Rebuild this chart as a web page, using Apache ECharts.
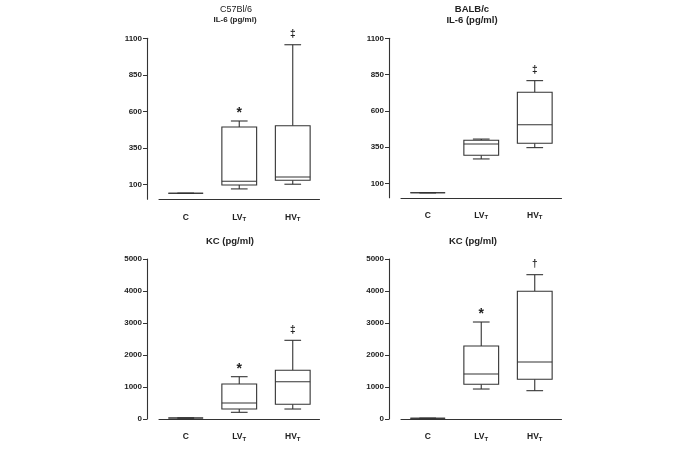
<!DOCTYPE html>
<html><head><meta charset="utf-8">
<script src="https://cdn.jsdelivr.net/npm/echarts@6/dist/echarts.min.js"></script>
<style>html,body{margin:0;padding:0;background:#fff}#c{width:685px;height:450px}</style>
</head><body><div id="c"></div>
<script>
const categories = ['C', 'LV', 'HV'];
// each box: [min, Q1, median, Q3, max]
const il6C57 = [[41, 41, 41, 41, 41], [71, 98, 123, 494, 535], [103, 130, 152, 503, 1056]];
const il6Balb = [[35, 35, 35, 35, 35], [268, 293, 371, 397, 405], [346, 376, 504, 728, 808]];
const kcC57 = [[30, 30, 30, 30, 30], [209, 312, 500, 1094, 1322], [312, 459, 1166, 1522, 2459]];
const kcBalb = [[22, 22, 22, 22, 22], [937, 1084, 1406, 2281, 3031], [885, 1240, 1781, 3990, 4510]];
const il6Ticks = [100, 350, 600, 850, 1100];
const kcTicks = [0, 1000, 2000, 3000, 4000, 5000];
const il6C57Marks = ['', '*', '‡'];
const il6BalbMarks = ['', '', '‡'];
const kcC57Marks = ['', '*', '‡'];
const kcBalbMarks = ['', '*', '†'];

const LC = '#333';
const FONT = 'Liberation Sans, Arial, sans-serif';

const panels = [
  {grid: {left: 159, top: 38.3, width: 160.5, height: 161}, data: il6C57, marks: il6C57Marks, ticks: il6Ticks, max: 1100},
  {grid: {left: 401, top: 38.3, width: 160.5, height: 159.5}, data: il6Balb, marks: il6BalbMarks, ticks: il6Ticks, max: 1100},
  {grid: {left: 159, top: 259, width: 160.5, height: 160}, data: kcC57, marks: kcC57Marks, ticks: kcTicks, max: 5000},
  {grid: {left: 401, top: 259, width: 160.5, height: 160}, data: kcBalb, marks: kcBalbMarks, ticks: kcTicks, max: 5000}
];

function makeRender(marks) {
  return function (params, api) {
    const i = api.value(0);
    const pts = [1, 2, 3, 4, 5].map(k => api.coord([i, api.value(k)]));
    const cx = pts[0][0];
    const bw = api.size([1, 0])[0] * 0.65;
    const cw = bw * 0.48;
    const st = {stroke: LC, lineWidth: 1.1, fill: null};
    const ch = [];
    ch.push({type: 'line', shape: {x1: cx, y1: pts[0][1], x2: cx, y2: pts[1][1]}, style: st});
    ch.push({type: 'line', shape: {x1: cx, y1: pts[3][1], x2: cx, y2: pts[4][1]}, style: st});
    ch.push({type: 'line', shape: {x1: cx - cw / 2, y1: pts[0][1], x2: cx + cw / 2, y2: pts[0][1]}, style: st});
    ch.push({type: 'line', shape: {x1: cx - cw / 2, y1: pts[4][1], x2: cx + cw / 2, y2: pts[4][1]}, style: st});
    ch.push({type: 'rect', shape: {x: cx - bw / 2, y: pts[3][1], width: bw, height: pts[1][1] - pts[3][1]},
      style: {stroke: LC, lineWidth: 1.1, fill: '#fff'}});
    ch.push({type: 'line', shape: {x1: cx - bw / 2, y1: pts[2][1], x2: cx + bw / 2, y2: pts[2][1]}, style: st});
    const m = marks[i];
    if (m) {
      const isStar = m === '*';
      ch.push({type: 'text', style: {
        text: m, x: cx, y: pts[4][1] - (isStar ? 8 : 10),
        align: 'center', verticalAlign: 'middle',
        fontSize: isStar ? 14 : 10, fontWeight: 'bold', fontFamily: FONT, fill: '#222'
      }});
    }
    return {type: 'group', children: ch};
  };
}

const option = {
  animation: false,
  backgroundColor: '#fff',
  title: [
    {text: 'C57Bl/6', left: 236, top: 5, textAlign: 'center', textStyle: {fontSize: 9, fontWeight: 'normal', fontFamily: FONT, color: '#222'}},
    {text: 'IL-6 (pg/ml)', left: 235, top: 16, textAlign: 'center', textStyle: {fontSize: 8, fontWeight: 'bold', fontFamily: FONT, color: '#222'}},
    {text: 'BALB/c', left: 472, top: 4, textAlign: 'center', textStyle: {fontSize: 9.5, fontWeight: 'bold', fontFamily: FONT, color: '#222'}},
    {text: 'IL-6 (pg/ml)', left: 472, top: 15, textAlign: 'center', textStyle: {fontSize: 9.5, fontWeight: 'bold', fontFamily: FONT, color: '#222'}},
    {text: 'KC (pg/ml)', left: 230, top: 236, textAlign: 'center', textStyle: {fontSize: 9.5, fontWeight: 'bold', fontFamily: FONT, color: '#222'}},
    {text: 'KC (pg/ml)', left: 473, top: 236, textAlign: 'center', textStyle: {fontSize: 9.5, fontWeight: 'bold', fontFamily: FONT, color: '#222'}}
  ].map(t => Object.assign({padding: 0}, t)),
  grid: panels.map(p => p.grid),
  xAxis: panels.map((p, gi) => ({
    type: 'category', gridIndex: gi, data: categories, offset: 11, boundaryGap: true,
    axisLine: {lineStyle: {color: LC, width: 1.1}},
    axisTick: {alignWithLabel: true, length: 3, lineStyle: {color: LC}},
    axisLabel: {
      interval: 0, margin: 2, color: '#222',
      formatter: v => v === 'C' ? '{a|C}' : '{a|' + v + '}{s|T}',
      rich: {
        a: {fontSize: 8.5, fontWeight: 'bold', fontFamily: FONT, lineHeight: 10, color: '#222'},
        s: {fontSize: 6, fontWeight: 'bold', fontFamily: FONT, lineHeight: 6, verticalAlign: 'bottom', color: '#222'}
      }
    },
    splitLine: {show: false}
  })),
  yAxis: panels.map((p, gi) => ({
    type: 'value', gridIndex: gi, min: 0, max: p.max, offset: 12,
    axisLine: {show: true, lineStyle: {color: LC, width: 1.1}},
    axisTick: {show: true, length: 4, customValues: p.ticks, lineStyle: {color: LC}},
    axisLabel: {margin: 5, customValues: p.ticks, formatter: v => String(v), fontSize: 8, fontWeight: 'bold', fontFamily: FONT, color: '#222'},
    splitLine: {show: false}
  })),
  series: panels.map((p, gi) => ({
    type: 'custom', xAxisIndex: gi, yAxisIndex: gi,
    encode: {x: 0, y: [1, 2, 3, 4, 5]},
    renderItem: makeRender(p.marks),
    data: p.data.map((b, i) => [i].concat(b))
  }))
};

const chart = echarts.init(document.getElementById('c'), null, {renderer: 'canvas'});
chart.setOption(option);
</script>
</body></html>
